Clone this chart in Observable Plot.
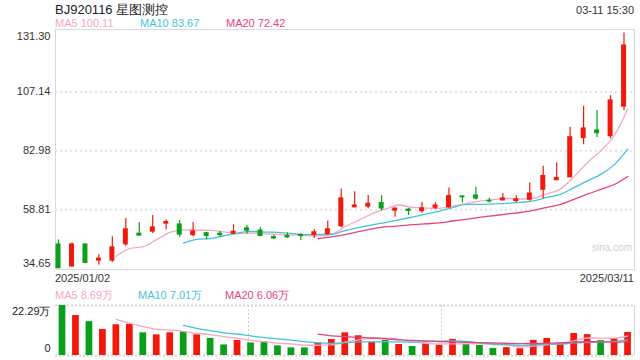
<!DOCTYPE html>
<html><head><meta charset="utf-8">
<script src="https://cdn.jsdelivr.net/npm/d3@7"></script>
<script src="https://cdn.jsdelivr.net/npm/@observablehq/plot@0.6"></script>
<style>
body{margin:0;background:#fff;font-family:"Liberation Sans",Arial,sans-serif;}
#wrap{position:relative;width:640px;height:360px;overflow:hidden;background:#fff;}
.t{position:absolute;white-space:nowrap;line-height:1;}
#main,#vol{position:absolute;left:0;}
#main{top:25px;} #vol{top:300px;}
</style></head><body><div id="wrap"><div id="main"></div><div id="vol"></div></div>
<script>
const title = "BJ920116 星图测控";
const timeLabel = "03-11 15:30";
const dates = ["2025/01/02","2025/01/03","2025/01/06","2025/01/07","2025/01/08","2025/01/09","2025/01/10","2025/01/13","2025/01/14","2025/01/15","2025/01/16","2025/01/17","2025/01/20","2025/01/21","2025/01/22","2025/01/23","2025/01/24","2025/01/27","2025/02/05","2025/02/06","2025/02/07","2025/02/10","2025/02/11","2025/02/12","2025/02/13","2025/02/14","2025/02/17","2025/02/18","2025/02/19","2025/02/20","2025/02/21","2025/02/24","2025/02/25","2025/02/26","2025/02/27","2025/02/28","2025/03/03","2025/03/04","2025/03/05","2025/03/06","2025/03/07","2025/03/10","2025/03/11"];
const open  = [44.5,35.5,44.5,37.9,37.9,44.6,48.9,49.8,53.1,52.7,48.4,49.1,48.9,49.0,51.1,50.2,47.5,48.0,48.4,48.4,48.8,52.0,59.8,60.1,61.5,58.4,58.8,58.2,59.6,59.8,64.2,64.6,62.4,62.6,62.3,62.9,67.0,70.9,72.1,88.2,91.3,89.0,101.1];
const high  = [46.4,45.1,44.6,40.3,47.7,55.2,53.5,56.4,54.6,54.3,53.5,49.5,49.9,52.6,52.3,51.4,48.2,49.2,48.8,50.6,54.1,67.3,66.2,64.6,64.5,59.6,59.3,61.7,61.7,67.7,64.3,68.0,63.5,65.4,64.5,69.7,76.6,78.0,92.6,101.2,99.5,105.6,131.30];
const low   = [34.65,35.3,36.6,36.0,37.1,43.7,48.0,49.0,50.6,47.5,47.7,46.5,47.5,48.4,48.8,47.7,46.4,47.0,46.1,47.0,48.4,51.4,59.6,59.2,58.4,55.7,56.4,57.3,58.8,59.3,61.5,62.8,61.5,62.6,61.6,62.3,63.3,70.9,71.9,85.4,88.4,87.9,99.5];
const close = [34.8,44.5,37.0,38.7,43.3,50.7,48.2,51.5,53.7,48.6,49.8,48.0,48.4,49.7,50.2,48.0,47.0,47.5,48.0,49.5,50.7,63.4,60.5,61.2,59.3,59.2,58.3,59.3,60.5,64.35,63.9,63.4,62.2,63.4,63.0,65.4,72.6,71.8,88.5,92.1,90.2,103.6,126.15];
const volume = [22.29,17.8,15.1,11.6,13.7,13.9,10.1,9.2,10.1,10.6,9.2,7.6,4.7,6.7,5.6,6.1,4.3,3.4,3.4,5.6,7.1,10.1,8.8,6.0,6.7,4.9,4.0,5.4,4.5,7.2,4.9,4.5,3.1,3.5,3.0,6.7,7.6,5.6,9.8,9.3,6.6,7.5,10.25];
const priceTicks = [34.65, 58.81, 82.98, 107.14, 131.30];
const volTicks = [0, 22.29];
const maNames = ["MA5", "MA10", "MA20"];
const maWindows = [5, 10, 20];
const priceMA = [100.11, 83.67, 72.42];
const volMA = [8.69, 7.01, 6.06];

const RED = "#f2190c", GREEN = "#0a9f1a";
const maColors = ["#f7a6c2", "#3fc4dc", "#e8437b"];
const FONT = '"Liberation Sans", Arial, sans-serif';

const rows = dates.map((d, i) => ({i, date: d, open: open[i], high: high[i], low: low[i], close: close[i], volume: volume[i]}));
const col = d => d.close >= d.open ? RED : GREEN;
const n = dates.length;

const wrap = document.getElementById("wrap");
function addText(txt, css) {
  const el = document.createElement("div");
  el.className = "t";
  el.textContent = txt;
  Object.assign(el.style, css);
  wrap.appendChild(el);
}
addText(title, {left: "55px", top: "3px", fontSize: "13px", color: "#222"});
addText(timeLabel, {right: "6px", top: "5px", fontSize: "11px", color: "#333"});
maNames.forEach((m, k) => addText(`${m} ${priceMA[k].toFixed(2)}`, {left: [55, 140, 226][k] + "px", top: "18px", fontSize: "11px", color: maColors[k]}));
maNames.forEach((m, k) => addText(`${m} ${volMA[k].toFixed(2)}万`, {left: [55, 138, 225][k] + "px", top: "290px", fontSize: "11px", color: maColors[k]}));
addText(dates[0], {left: "55px", top: "273px", fontSize: "11px", color: "#333"});
addText(dates[n - 1], {right: "6px", top: "273px", fontSize: "11px", color: "#333"});
addText("sina.com", {right: "8px", top: "243px", fontSize: "10px", color: "#cfcfcf"});

const maLines = (field, yfmt) => maWindows.map((k, j) =>
  Plot.lineY(rows, Plot.windowY({k, anchor: "end", strict: true}, {x: d => d.i + 0.5, y: field, stroke: maColors[j], strokeWidth: 1.3, curve: "monotone-x"}))
);

const main = Plot.plot({
  width: 640, height: 250, marginTop: 4, marginBottom: 6, marginLeft: 55, marginRight: 6,
  x: {domain: [0, n], axis: null},
  y: {domain: [34.24, 132.74], axis: null},
  color: {type: "identity"},
  style: {fontFamily: FONT, fontSize: "11px", background: "transparent", color: "#333"},
  marks: [
    Plot.ruleY(priceTicks.slice(1, -1), {stroke: "#e2e2e2", strokeWidth: 2, strokeDasharray: "2,3"}),
    Plot.frame({stroke: "#d9d9d9"}),
    ...maLines("close"),
    Plot.ruleX(rows, {x: d => d.i + 0.22, y1: "low", y2: "high", stroke: col, strokeWidth: 1.2}),
    Plot.rect(rows, {x1: d => d.i + 0.04, x2: d => d.i + 0.41, y1: "open", y2: "close", fill: col, insetTop: -0.6, insetBottom: -0.6}),
    Plot.text(priceTicks.slice(1, -1), {frameAnchor: "left", y: d => d, text: d => d.toFixed(2), textAnchor: "end", dx: -5, fill: "#333"}),
    Plot.text(priceTicks.slice(-1), {frameAnchor: "left", y: d => d, text: d => d.toFixed(2), textAnchor: "end", dx: -5, dy: 3, fill: "#333"}),
    Plot.text(priceTicks.slice(0, 1), {frameAnchor: "left", y: d => d, text: d => d.toFixed(2), textAnchor: "end", dx: -5, dy: -5, fill: "#333"})
  ]
});
document.getElementById("main").appendChild(main);

const vol = Plot.plot({
  width: 640, height: 60, marginTop: 5, marginBottom: 5, marginLeft: 55, marginRight: 6,
  x: {domain: [0, n], axis: null},
  y: {domain: [0, volTicks[1]], axis: null},
  color: {type: "identity"},
  style: {fontFamily: FONT, fontSize: "11px", background: "transparent", color: "#333"},
  marks: [
    Plot.ruleY(volTicks, {stroke: "#d6d6d6", strokeWidth: 2, strokeDasharray: "2,2"}),
    Plot.ruleX([n / 3, 2 * n / 3], {stroke: "#cfcfcf", strokeWidth: 1, strokeDasharray: "2,2"}),
    Plot.ruleX([n], {stroke: "#d9d9d9"}),
    Plot.rect(rows, {x1: d => d.i + 0.27, x2: d => d.i + 0.77, y1: 0, y2: "volume", fill: col}),
    ...maLines("volume"),
    Plot.text(volTicks.slice(1), {frameAnchor: "left", y: d => d, text: d => d.toFixed(2) + "万", textAnchor: "end", dx: -5, dy: 6, fill: "#222"}),
    Plot.text(volTicks.slice(0, 1), {frameAnchor: "left", y: d => d, text: d => String(d), textAnchor: "end", dx: -5, dy: -7, fill: "#222"})
  ]
});
document.getElementById("vol").appendChild(vol);
</script></body></html>
